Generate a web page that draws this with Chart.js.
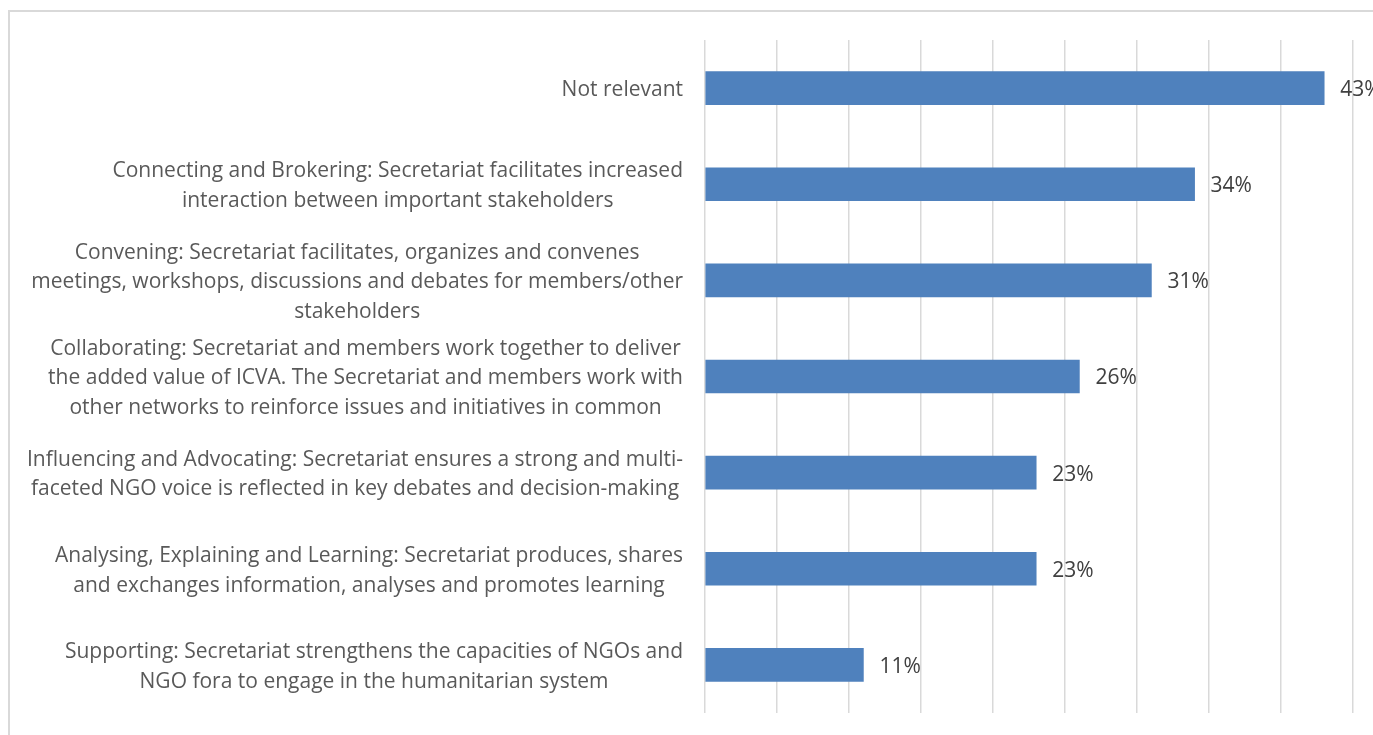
<!DOCTYPE html>
<html>
<head>
<meta charset="utf-8">
<script src="https://cdn.jsdelivr.net/npm/chart.js@4/dist/chart.umd.min.js"></script>
<style>
  html, body { margin: 0; padding: 0; background: #fff; overflow: hidden; }
  #wrap { width: 1373px; height: 735px; position: relative; }
</style>
</head>
<body>
<div id="wrap"><canvas id="c"></canvas></div>
<script>
// Category labels, one entry per bar, already split into display lines
const categories = [
  ["Not relevant"],
  ["Connecting and Brokering: Secretariat facilitates increased",
   "interaction between important stakeholders"],
  ["Convening: Secretariat facilitates, organizes and convenes",
   "meetings, workshops, discussions and debates for members/other",
   "stakeholders"],
  ["Collaborating: Secretariat and members work together to deliver",
   "the added value of ICVA. The Secretariat and members work with",
   "other networks to reinforce issues and initiatives in common"],
  ["Influencing and Advocating: Secretariat ensures a strong and multi-",
   "faceted NGO voice is reflected in key debates and decision-making"],
  ["Analysing, Explaining and Learning: Secretariat produces, shares",
   "and exchanges information, analyses and promotes learning"],
  ["Supporting: Secretariat strengthens the capacities of NGOs and",
   "NGO fora to engage in the humanitarian system"]
];

// Share of respondents (%)
const shares = [43, 34, 31, 26, 23, 23, 11];

// Value axis range and gridline step (%)
const axisMin = 0;
const axisMax = 45;
const axisStep = 5;

const FONT = '"Open Sans", "Noto Sans", sans-serif';

const annotate = {
  id: 'annotate',
  afterDraw(chart) {
    const ctx = chart.ctx;
    const yScale = chart.scales.y;
    const area = chart.chartArea;
    ctx.save();

    // category labels: each block right-aligned, its lines centred
    ctx.font = '21px ' + FONT;
    ctx.fillStyle = '#595959';
    ctx.textBaseline = 'middle';
    ctx.textAlign = 'center';
    const lineH = 29.5;
    categories.forEach((lines, i) => {
      const cy = yScale.getPixelForTick(i) + 2;
      const w = Math.max(...lines.map(l => ctx.measureText(l).width));
      const cx = area.left - 22 - w / 2;
      lines.forEach((l, j) => {
        ctx.fillText(l, cx, cy + (j - (lines.length - 1) / 2) * lineH);
      });
    });

    // value labels at bar ends
    ctx.font = '21px ' + FONT;
    ctx.fillStyle = '#404040';
    ctx.textAlign = 'left';
    const meta = chart.getDatasetMeta(0);
    meta.data.forEach((bar, i) => {
      ctx.fillText(shares[i] + '%', bar.x + 16, bar.y + 2);
    });

    // outer frame
    ctx.strokeStyle = '#d9d9d9';
    ctx.lineWidth = 2;
    ctx.strokeRect(9, 11, chart.width + 40, chart.height + 40);
    ctx.restore();
  }
};

new Chart(document.getElementById('c'), {
  type: 'bar',
  data: {
    labels: categories.map(l => l.join(' ')),
    datasets: [{
      data: shares,
      backgroundColor: '#4f81bd',
      borderWidth: 0,
      barThickness: 33
    }]
  },
  options: {
    indexAxis: 'y',
    responsive: true,
    maintainAspectRatio: false,
    animation: false,
    layout: { padding: { left: 705, top: 40, right: 20, bottom: 22 } },
    plugins: { legend: { display: false }, tooltip: { enabled: false } },
    scales: {
      x: {
        min: axisMin,
        max: axisMax,
        ticks: { display: false, stepSize: axisStep },
        grid: { color: '#d9d9d9', lineWidth: 1.5, drawTicks: false },
        border: { display: false },
        afterFit(s) { s.height = 0; }
      },
      y: {
        display: false
      }
    }
  },
  plugins: [annotate]
});
</script>
</body>
</html>
